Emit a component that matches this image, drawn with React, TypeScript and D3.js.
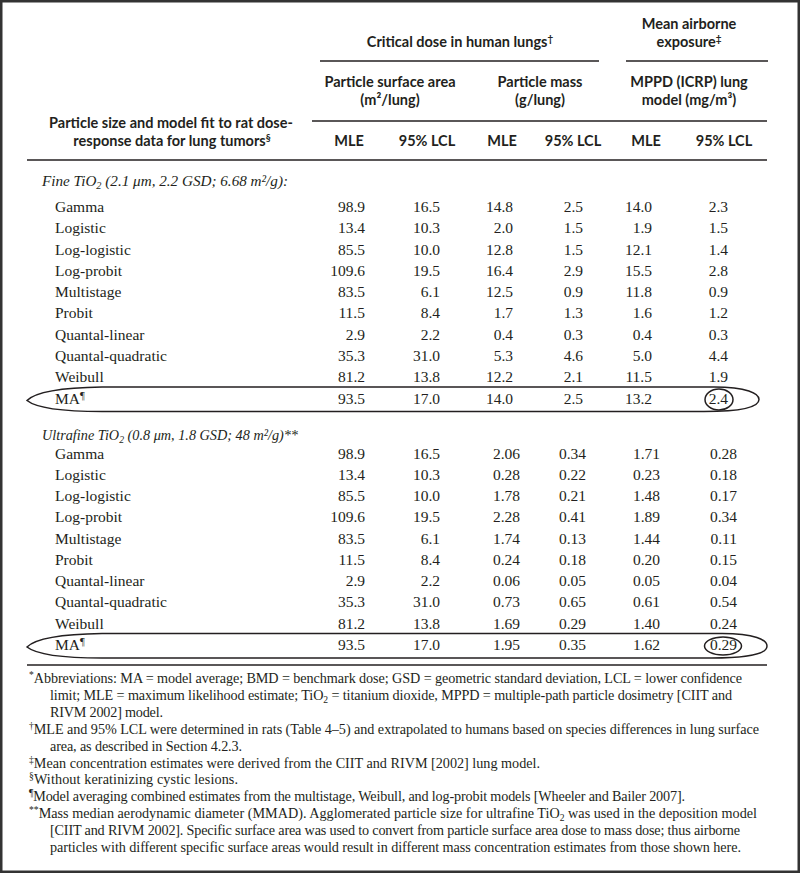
import React, { useEffect, useRef } from 'react';
import * as d3 from 'd3';

// rows of the table
const models = ['Gamma', 'Logistic', 'Log-logistic', 'Log-probit', 'Multistage', 'Probit', 'Quantal-linear', 'Quantal-quadratic', 'Weibull', 'MA'];

// fine TiO2 (values kept as printed)
const fineSurfaceMle = ['98.9', '13.4', '85.5', '109.6', '83.5', '11.5', '2.9', '35.3', '81.2', '93.5'];
const fineSurfaceLcl = ['16.5', '10.3', '10.0', '19.5', '6.1', '8.4', '2.2', '31.0', '13.8', '17.0'];
const fineMassMle = ['14.8', '2.0', '12.8', '16.4', '12.5', '1.7', '0.4', '5.3', '12.2', '14.0'];
const fineMassLcl = ['2.5', '1.5', '1.5', '2.9', '0.9', '1.3', '0.3', '4.6', '2.1', '2.5'];
const fineAirMle = ['14.0', '1.9', '12.1', '15.5', '11.8', '1.6', '0.4', '5.0', '11.5', '13.2'];
const fineAirLcl = ['2.3', '1.5', '1.4', '2.8', '0.9', '1.2', '0.3', '4.4', '1.9', '2.4'];

// ultrafine TiO2
const ultraSurfaceMle = ['98.9', '13.4', '85.5', '109.6', '83.5', '11.5', '2.9', '35.3', '81.2', '93.5'];
const ultraSurfaceLcl = ['16.5', '10.3', '10.0', '19.5', '6.1', '8.4', '2.2', '31.0', '13.8', '17.0'];
const ultraMassMle = ['2.06', '0.28', '1.78', '2.28', '1.74', '0.24', '0.06', '0.73', '1.69', '1.95'];
const ultraMassLcl = ['0.34', '0.22', '0.21', '0.41', '0.13', '0.18', '0.05', '0.65', '0.29', '0.35'];
const ultraAirMle = ['1.71', '0.23', '1.48', '1.89', '1.44', '0.20', '0.05', '0.61', '1.40', '1.62'];
const ultraAirLcl = ['0.28', '0.18', '0.17', '0.34', '0.11', '0.15', '0.04', '0.54', '0.24', '0.29'];

const colKeys = ['surfaceMle', 'surfaceLcl', 'massMle', 'massLcl', 'airMle', 'airLcl'];
const colLabels = ['MLE', '95% LCL', 'MLE', '95% LCL', 'MLE', '95% LCL'];

const footnotes = [
  [{ t: '*', sup: true }, { t: 'Abbreviations: MA = model average; BMD = benchmark dose; GSD = geometric standard deviation, LCL = lower confidence' }],
  [{ t: 'limit; MLE = maximum likelihood estimate; TiO' }, { t: '2', sub: true }, { t: ' = titanium dioxide, MPPD = multiple-path particle dosimetry [CIIT and' }],
  [{ t: 'RIVM 2002] model.' }],
  [{ t: '†', sup: true }, { t: 'MLE and 95% LCL were determined in rats (Table 4–5) and extrapolated to humans based on species differences in lung surface' }],
  [{ t: 'area, as described in Section 4.2.3.' }],
  [{ t: '‡', sup: true }, { t: 'Mean concentration estimates were derived from the CIIT and RIVM [2002] lung model.' }],
  [{ t: '§', sup: true }, { t: 'Without keratinizing cystic lesions.' }],
  [{ t: '¶', sup: true }, { t: 'Model averaging combined estimates from the multistage, Weibull, and log-probit models [Wheeler and Bailer 2007].' }],
  [{ t: '**', sup: true }, { t: 'Mass median aerodynamic diameter (MMAD). Agglomerated particle size for ultrafine TiO' }, { t: '2', sub: true }, { t: ' was used in the deposition model' }],
  [{ t: '[CIIT and RIVM 2002]. Specific surface area was used to convert from particle surface area dose to mass dose; thus airborne' }],
  [{ t: 'particles with different specific surface areas would result in different mass concentration estimates from those shown here.' }],
];
const footIndent = [false, true, true, false, true, false, false, false, false, true, true];
// right end of each printed footnote line
const footEnd = [742, 732, 163, 759, 242, 540, 238, 685, 757, 740, 741];

const INK = '#231f20';
const SERIF = '"Liberation Serif", "Times New Roman", serif';
const SANS = 'Lato, "Open Sans", sans-serif';

// append text parts with super/subscripts
function rich(text, parts) {
  let shift = 0;
  parts.forEach(p => {
    const target = p.sup ? -5 : p.sub ? 3 : 0;
    const ts = text.append('tspan').attr('dy', target - shift).text(p.t);
    if (p.sup || p.sub) ts.style('font-size', '0.68em');
    shift = target;
  });
}

const TableChart = () => {
  const ref = useRef(null);

  useEffect(() => {
    const width = 800, height = 873;
    const svg = d3.select(ref.current);
    svg.selectAll('*').remove();
    svg.attr('viewBox', `0 0 ${width} ${height}`);

    svg.append('rect').attr('width', width).attr('height', height).attr('fill', '#fff');
    svg.append('rect')
      .attr('x', 1.25).attr('y', 1.25).attr('width', width - 2.5).attr('height', height - 2.5)
      .attr('fill', 'none').attr('stroke', '#333').attr('stroke-width', 2.5);

    const headerCenter = d3.scaleOrdinal().domain(colKeys).range([349, 427, 502, 573, 646, 724]);
    const fineEdge = d3.scaleOrdinal().domain(colKeys).range([365, 440, 513, 583, 652, 728]);
    const ultraEdge = d3.scaleOrdinal().domain(colKeys).range([365, 440, 520, 586, 660, 737]);

    const hdr = (x, y, parts, anchor = 'middle') => {
      const t = svg.append('text').attr('x', x).attr('y', y)
        .attr('text-anchor', anchor).attr('fill', INK)
        .style('font-family', SANS).style('font-weight', 700).style('font-size', '14.5px');
      rich(t, parts);
      return t;
    };

    // group headers
    hdr(460, 47, [{ t: 'Critical dose in human lungs' }, { t: '†', sup: true }]);
    hdr(689, 29, [{ t: 'Mean airborne' }]);
    hdr(689, 47, [{ t: 'exposure' }, { t: '‡', sup: true }]);
    hdr(390, 87, [{ t: 'Particle surface area' }]);
    hdr(390, 105, [{ t: '(m²/lung)' }]);
    hdr(540, 87, [{ t: 'Particle mass' }]);
    hdr(540, 105, [{ t: '(g/lung)' }]);
    hdr(689, 87, [{ t: 'MPPD (ICRP) lung' }]);
    hdr(689, 105, [{ t: 'model (mg/m³)' }]);
    hdr(171, 128, [{ t: 'Particle size and model fit to rat dose-' }]);
    hdr(172, 146, [{ t: 'response data for lung tumors' }, { t: '§', sup: true }]);
    colKeys.forEach((k, i) => hdr(headerCenter(k), 146, [{ t: colLabels[i] }]));

    const rule = (x1, x2, y) => svg.append('line')
      .attr('x1', x1).attr('x2', x2).attr('y1', y).attr('y2', y)
      .attr('stroke', INK).attr('stroke-width', 1.6);
    rule(320, 599, 61);
    rule(626, 768, 61);
    rule(312, 767, 121);
    rule(27, 767, 160);
    rule(27, 767, 665);

    const sections = [
      {
        title: [{ t: 'Fine TiO' }, { t: '2', sub: true }, { t: ' (2.1 μm, 2.2 GSD; 6.68 m²/g):' }],
        titleY: 186,
        titleEnd: 288,
        y: d3.scaleLinear().domain([0, models.length - 1]).range([212, 403.5]),
        edge: fineEdge,
        cols: [fineSurfaceMle, fineSurfaceLcl, fineMassMle, fineMassLcl, fineAirMle, fineAirLcl],
        ring: { cx: 719, rx: 14, ry: 10.5 },
        ovalRight: 759,
      },
      {
        title: [{ t: 'Ultrafine TiO' }, { t: '2', sub: true }, { t: ' (0.8 μm, 1.8 GSD; 48 m²/g)**' }],
        titleY: 440,
        titleEnd: 298,
        y: d3.scaleLinear().domain([0, models.length - 1]).range([458.5, 650]),
        edge: ultraEdge,
        cols: [ultraSurfaceMle, ultraSurfaceLcl, ultraMassMle, ultraMassLcl, ultraAirMle, ultraAirLcl],
        ring: { cx: 723, rx: 18.5, ry: 9 },
        ovalRight: 767,
      },
    ];

    sections.forEach(sec => {
      const title = svg.append('text').attr('x', 42).attr('y', sec.titleY).attr('fill', INK)
        .attr('textLength', sec.titleEnd - 42).attr('lengthAdjust', 'spacingAndGlyphs')
        .style('font-family', SERIF).style('font-style', 'italic').style('font-size', '15.5px');
      rich(title, sec.title);

      const g = svg.append('g').style('font-family', SERIF).style('font-size', '15.5px').attr('fill', INK);
      g.selectAll('text.model').data(models).enter().append('text')
        .attr('class', 'model')
        .attr('x', 55)
        .attr('y', (d, i) => sec.y(i))
        .each(function (d) {
          const t = d3.select(this);
          if (d === 'MA') rich(t, [{ t: 'MA' }, { t: '¶', sup: true }]);
          else t.text(d);
        });

      sec.cols.forEach((vals, ci) => {
        g.selectAll(`text.c${ci}`).data(vals).enter().append('text')
          .attr('class', `c${ci}`)
          .attr('x', sec.edge(colKeys[ci]))
          .attr('y', (d, i) => sec.y(i))
          .attr('text-anchor', 'end')
          .text(d => d);
      });

      // hand-drawn highlight around the model-average row
      const cy = sec.y(models.length - 1) - 4;
      const x0 = 27, x1 = sec.ovalRight;
      const p = d3.path();
      p.moveTo(x0, cy + 1);
      p.bezierCurveTo(x0 + 10, cy - 9, x0 + 40, cy - 12, x0 + 75, cy - 12.5);
      p.lineTo(x1 - 45, cy - 12.5);
      p.bezierCurveTo(x1 - 12, cy - 12.5, x1, cy - 6, x1, cy);
      p.bezierCurveTo(x1, cy + 7, x1 - 15, cy + 12, x1 - 55, cy + 12);
      p.lineTo(x0 + 75, cy + 12);
      p.bezierCurveTo(x0 + 40, cy + 12, x0 + 10, cy + 9, x0, cy + 1);
      p.closePath();
      svg.append('path').attr('d', p.toString()).attr('fill', 'none')
        .attr('stroke', INK).attr('stroke-width', 1.5);

      svg.append('ellipse')
        .attr('cx', sec.ring.cx).attr('cy', cy)
        .attr('rx', sec.ring.rx).attr('ry', sec.ring.ry)
        .attr('fill', 'none').attr('stroke', INK).attr('stroke-width', 1.5);
    });

    // footnotes
    const footY = d3.scaleLinear().domain([0, footnotes.length - 1]).range([683, 852]);
    footnotes.forEach((parts, i) => {
      const x = footIndent[i] ? 50 : 29;
      const t = svg.append('text')
        .attr('x', x)
        .attr('y', footY(i))
        .attr('textLength', footEnd[i] - x)
        .attr('lengthAdjust', 'spacing')
        .attr('fill', INK)
        .style('font-family', SERIF).style('font-size', '14.2px');
      rich(t, parts);
    });
  }, []);

  return <svg ref={ref} width={800} height={873} style={{ position: 'absolute', left: 0, top: 0, display: 'block' }} />;
};

export default function App() {
  return <TableChart />;
}
